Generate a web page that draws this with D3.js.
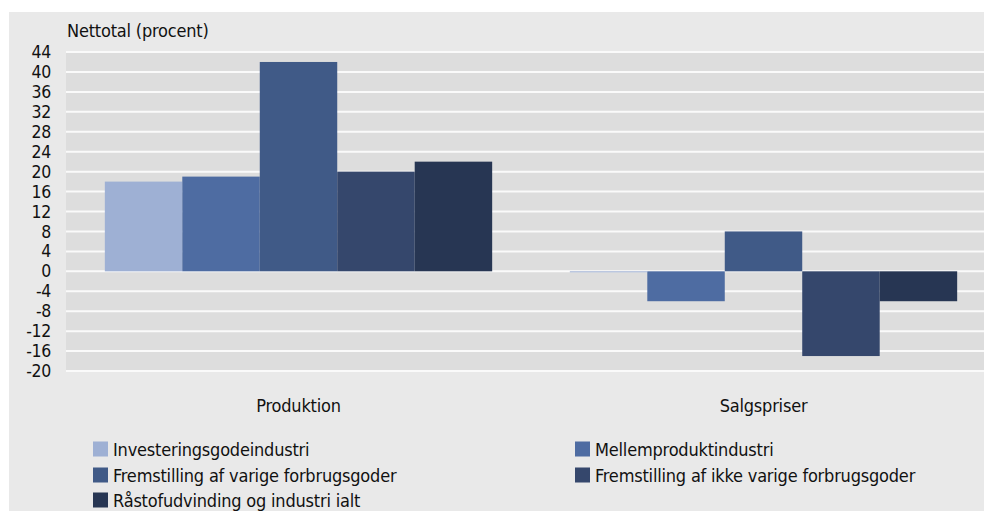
<!DOCTYPE html>
<html>
<head>
<meta charset="utf-8">
<script src="https://cdn.jsdelivr.net/npm/d3@7"></script>
<style>
  body { margin: 0; background: #fff; }
  text { font-family: "DejaVu Sans Condensed", "Open Sans", sans-serif; fill: #111; }
</style>
</head>
<body>
<div id="chart"></div>
<script>
// Categories, series and values
const categories = ["Produktion", "Salgspriser"];
const seriesNames = [
    "Investeringsgodeindustri",
    "Mellemproduktindustri",
    "Fremstilling af varige forbrugsgoder",
    "Fremstilling af ikke varige forbrugsgoder",
    "Råstofudvinding og industri ialt"
];
const produktion = [18, 19, 42, 20, 22];
const salgspriser = [-0.2, -6, 8, -17, -6];
const yTicks = [44, 40, 36, 32, 28, 24, 20, 16, 12, 8, 4, 0, -4, -8, -12, -16, -20];

const colors = ["#9eb0d4", "#4e6ca2", "#405a87", "#35476c", "#273653"];

const width = 984, height = 511;
const plot = { left: 66, right: 996, top: 52, bottom: 371 };

const svg = d3.select("#chart")
    .append("svg")
    .attr("width", width)
    .attr("height", height);

// Panel background
svg.append("rect")
    .attr("x", 9).attr("y", 12)
    .attr("width", width - 9).attr("height", height - 12)
    .attr("fill", "#e9e9e9");

// Plot area
svg.append("rect")
    .attr("x", plot.left).attr("y", plot.top)
    .attr("width", plot.right - plot.left).attr("height", plot.bottom - plot.top)
    .attr("fill", "#dddddd");

const y = d3.scaleLinear()
    .domain([-20, 44])
    .range([plot.bottom, plot.top]);

const x0 = d3.scaleBand()
    .domain(categories)
    .range([plot.left, plot.right])
    .paddingInner(0.167)
    .paddingOuter(0.0835);

const x1 = d3.scaleBand()
    .domain(seriesNames)
    .range([0, x0.bandwidth()]);

// Gridlines
svg.append("g")
    .selectAll("line")
    .data(yTicks)
    .join("line")
    .attr("x1", plot.left)
    .attr("x2", plot.right)
    .attr("y1", d => y(d))
    .attr("y2", d => y(d))
    .attr("stroke", "#fafafa")
    .attr("stroke-width", 2);

// Y axis labels
const yAxis = svg.append("g")
    .attr("transform", `translate(${plot.left},0)`)
    .call(d3.axisLeft(y).tickValues(yTicks).tickSize(0).tickPadding(15).tickFormat(d => String(d)));
yAxis.select(".domain").remove();
yAxis.selectAll("text")
    .style("font-size", "17.5px")
    .style("letter-spacing", "-0.3px")
    .attr("fill", "#111")
    .style("font-family", "'DejaVu Sans Condensed', sans-serif");

// Axis title
svg.append("text")
    .attr("x", 67)
    .attr("y", 37)
    .style("font-size", "18px")
    .style("letter-spacing", "-0.2px")
    .text("Nettotal (procent)");

// Bars
const rows = categories.map((c, i) => ({
    category: c,
    values: (i === 0 ? produktion : salgspriser).map((v, j) => ({ name: seriesNames[j], value: v, color: colors[j] }))
}));

const groups = svg.append("g")
    .selectAll("g")
    .data(rows)
    .join("g")
    .attr("transform", d => `translate(${x0(d.category)},0)`);

groups.selectAll("rect")
    .data(d => d.values)
    .join("rect")
    .attr("x", d => x1(d.name))
    .attr("width", x1.bandwidth())
    .attr("y", d => y(Math.max(0, d.value)))
    .attr("height", d => Math.abs(y(d.value) - y(0)))
    .attr("fill", d => d.color);

// Category labels
svg.append("g")
    .selectAll("text")
    .data(categories)
    .join("text")
    .attr("x", d => x0(d) + x0.bandwidth() / 2)
    .attr("y", 412)
    .attr("text-anchor", "middle")
    .style("font-size", "18px")
    .style("letter-spacing", "-0.2px")
    .text(d => d);

// Legend, two columns
const legendCols = [93, 575];
const legendRows = [449, 475, 500];
const legend = svg.append("g")
    .selectAll("g")
    .data(seriesNames)
    .join("g")
    .attr("transform", (d, i) => `translate(${legendCols[i % 2]},${legendRows[Math.floor(i / 2)]})`);

legend.append("rect")
    .attr("x", 0).attr("y", -7.5)
    .attr("width", 15).attr("height", 15)
    .attr("fill", (d, i) => colors[i]);

legend.append("text")
    .attr("x", 20)
    .attr("y", 7)
    .style("font-size", "18px")
    .style("letter-spacing", "-0.2px")
    .text(d => d);
</script>
</body>
</html>
